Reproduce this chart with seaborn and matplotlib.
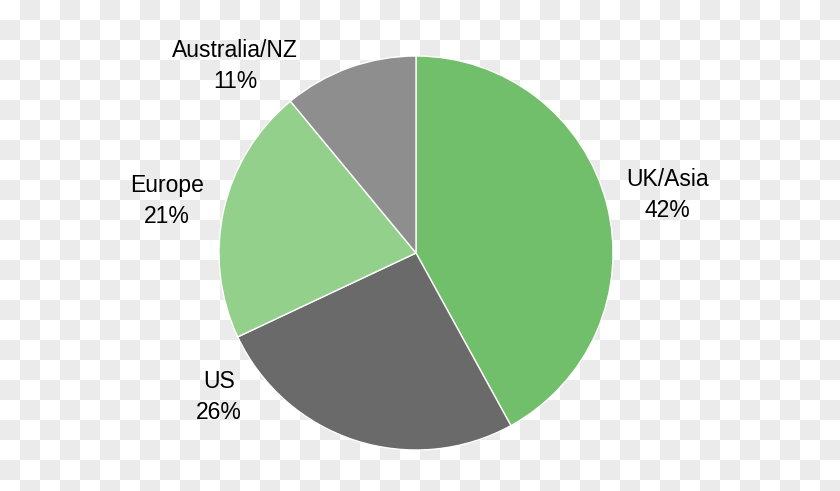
import numpy as np
import matplotlib
matplotlib.use("Agg")
import matplotlib.pyplot as plt
import seaborn as sns

# ---- data ----
categories = ["UK/Asia", "US", "Europe", "Australia/NZ"]
shares = [42, 26, 21, 11]
pct_labels = ["42%", "26%", "21%", "11%"]

# ---- style / layout ----
slice_colors = ["#71bf6a", "#6a6a6a", "#93d08c", "#8e8e8e"]
label_angles = [13.0, -143.8, 168.2, 134.0]      # degrees
label_radii = [1.31, 1.24, 1.29, 1.32]

sns.set_theme(style="white")
plt.rcParams["font.family"] = ["Liberation Sans", "DejaVu Sans"]

W, H = 840, 491
fig = plt.figure(figsize=(W / 100, H / 100), dpi=100, facecolor="white")

# transparency checkerboard background
jj, ii = np.indices((H, W))
odd = ((ii // 20) + (jj // 20)) % 2 == 1
bg = np.ones((H, W, 3))
bg[odd] = np.array([235, 235, 235]) / 255.0
bax = fig.add_axes([0, 0, 1, 1], zorder=0)
bax.imshow(bg, aspect="auto", interpolation="nearest")
bax.axis("off")

cx, cy, r = 416, 491 - 253, 197
ax = fig.add_axes([(cx - r) / W, (cy - r) / H, 2 * r / W, 2 * r / H], zorder=1)
ax.set_facecolor("none")

ax.pie(shares, colors=slice_colors, startangle=90, counterclock=False,
       wedgeprops=dict(edgecolor="white", linewidth=1.0), radius=1.0)
ax.set_xlim(-1, 1)
ax.set_ylim(-1, 1)
ax.set_aspect("equal")
ax.axis("off")

for cat, pct, ang, rad in zip(categories, pct_labels, label_angles, label_radii):
    a = np.deg2rad(ang)
    ax.text(rad * np.cos(a), rad * np.sin(a), f"{cat}\n{pct}", ha="center",
            va="center", fontsize=16.5, color="black", linespacing=1.42,
            clip_on=False)

fig.savefig("out.png", dpi=100, facecolor="white")
